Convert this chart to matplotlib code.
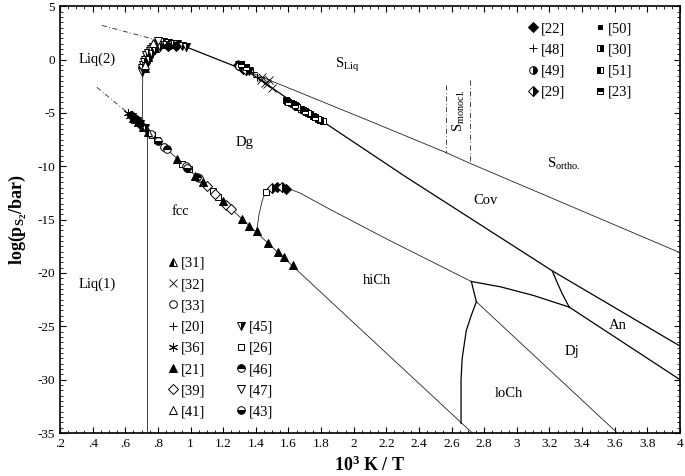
import matplotlib
matplotlib.use('Agg')
import matplotlib.pyplot as plt
from matplotlib.lines import Line2D
from matplotlib.ticker import FixedLocator, FixedFormatter, MultipleLocator

plt.rcParams['font.family'] = ['Liberation Serif', 'DejaVu Serif']
plt.rcParams['mathtext.fontset'] = 'custom'
plt.rcParams['mathtext.rm'] = 'Liberation Serif'
plt.rcParams['mathtext.it'] = 'Liberation Serif:italic'
plt.rcParams['mathtext.bf'] = 'Liberation Serif:bold'
plt.rcParams['axes.unicode_minus'] = False

# ---- phase boundaries (10^3 K/T , log pS2) ----
liq1_fcc_x = [0.732, 0.732]
liq1_fcc_y = [-35.0, -6.65]
liq2_dg_x = [0.71, 0.705, 0.705, 0.708, 0.732, 0.77, 0.80]
liq2_dg_y = [-6.35, -5.0, -3.0, -1.3, 0.9, 1.6, 1.8]
gas_top_x = [0.80, 0.977, 1.35]
gas_top_y = [1.8, 1.16, -1.1]
dash_top_x = [0.457, 0.80]
dash_top_y = [3.2, 1.8]
dash_low_x = [0.426, 0.616]
dash_low_y = [-2.6, -5.0]
s_gas_x = [1.35, 2.085, 2.574, 2.709, 4.0]
s_gas_y = [-1.1, -5.68, -8.77, -9.7, -18.1]
dg_cov_x = [1.35, 1.58, 1.81, 2.32, 3.217, 4.0]
dg_cov_y = [-1.1, -3.5, -5.8, -11.0, -19.8, -26.85]
fcc_dg_x = [0.616, 2.727]
fcc_dg_y = [-5.0, -35.0]
hich_dg_x = [1.405, 1.42, 1.44, 1.46, 1.53, 1.6, 1.67, 1.85, 2.2, 2.721]
hich_dg_y = [-16.1, -14.5, -13.2, -12.4, -12.0, -12.1, -12.5, -14.0, -16.8, -20.8]
dj_top_x = [2.721, 2.9, 3.1, 3.321]
dj_top_y = [-20.8, -21.3, -22.1, -23.2]
an_dj_x = [3.217, 3.25, 3.28, 3.321]
an_dj_y = [-19.8, -21.0, -22.0, -23.2]
an_low_x = [3.321, 4.0]
an_low_y = [-23.2, -30.0]
short_x = [2.721, 2.752]
short_y = [-20.8, -22.7]
dj_loch_x = [2.752, 3.616]
dj_loch_y = [-22.7, -35.0]
hich_loch_x = [2.752, 2.72, 2.69, 2.665, 2.658, 2.658]
hich_loch_y = [-22.7, -24.0, -25.4, -28.0, -30.0, -34.1]
smono_l_x = [2.568, 2.568]
smono_l_y = [-2.4, -8.77]
smono_r_x = [2.715, 2.715]
smono_r_y = [-1.9, -9.7]

# ---- experimental points ----
r31_x = [0.66, 0.74]
r31_y = [-5.6, -6.8]
r32_x = [1.43, 1.455, 1.47, 1.50, 1.44, 1.48]
r32_y = [-1.9, -2.2, -2.3, -2.7, -1.65, -1.9]
r33_x = [0.755, 0.84, 0.97, 1.05]
r33_y = [-6.95, -8.15, -10.0, -11.1]
r20_x = [0.63]
r20_y = [-5.2]
r36_x = [0.616, 0.63]
r36_y = [-5.0, -5.25]
r21_x = [0.65, 0.68, 0.71, 0.92, 1.03, 1.075, 1.20, 1.314, 1.357, 1.405, 1.473,
         1.534, 1.57, 1.626, 0.72, 0.74, 0.78, 0.84, 0.90, 0.705, 0.73]
r21_y = [-5.5, -5.9, -6.3, -9.35, -10.9, -11.5, -13.3, -14.9, -15.6, -16.1, -17.2,
         -18.0, -18.5, -19.3, -0.8, 0.2, 1.1, 1.5, 1.5, -0.3, 0.5]
r39_x = [1.10, 1.15, 1.22, 1.25]
r39_y = [-11.85, -12.6, -13.6, -14.0]
r41_x = [0.77, 0.72]
r41_y = [1.55, -0.5]
r45_x = [0.70, 0.71, 0.72, 0.73, 0.75, 0.77, 0.80, 0.83, 0.86, 0.89, 0.92, 0.95,
         0.975, 0.70, 0.715, 0.74, 0.76, 0.79, 0.82, 0.85, 0.88, 1.30, 1.33, 1.36,
         0.64, 0.67, 0.69, 0.72, 0.725, 0.745, 0.765, 0.785, 0.81]
r45_y = [-1.2, -0.5, 0.0, 0.4, 0.8, 1.2, 1.5, 1.6, 1.55, 1.5, 1.45, 1.3,
         1.2, -0.8, -0.2, 0.6, 1.0, 1.35, 1.4, 1.4, 1.35, -0.5, -0.8, -1.1,
         -5.35, -5.75, -6.05, -6.45, -0.6, 0.0, 0.5, 0.9, 1.2]
r26_x = [1.46, 0.765, 0.795, 0.95, 0.99, 1.136, 1.17]
r26_y = [-12.4, -7.1, -7.5, -9.8, -10.3, -12.3, -12.85]
r46_x = [0.855, 1.04]
r46_y = [-8.4, -11.0]
r47_x = [0.80]
r47_y = [1.7]
r43_x = [0.80, 0.98]
r43_y = [-7.6, -10.2]
r22_x = [1.53, 1.585, 0.64, 0.67, 0.69, 0.86, 0.91, 1.29, 1.32]
r22_y = [-11.95, -12.1, -5.3, -5.7, -6.0, 1.3, 1.3, -0.5, -0.9]
r48_x = [1.38, 1.41]
r48_y = [-1.2, -1.6]
r49_x = [1.30]
r49_y = [-0.6]
r29_x = [1.50, 1.56, 1.31, 1.34]
r29_y = [-12.0, -11.95, -0.6, -1.0]
r50_x = [1.60, 1.66, 1.72, 1.78]
r50_y = [-3.9, -4.4, -4.9, -5.5]
r30_x = [1.585, 1.615, 1.645, 1.675, 1.705, 1.735, 1.765, 1.795]
r30_y = [-3.8, -4.05, -4.35, -4.6, -4.9, -5.15, -5.4, -5.65]
r51_x = [1.59, 1.625, 1.655, 1.69, 1.72, 1.75, 1.78, 1.81]
r51_y = [-3.9, -4.2, -4.45, -4.75, -5.0, -5.3, -5.55, -5.8]
r23_x = [1.60, 1.64, 1.70, 1.76, 1.31, 1.34]
r23_y = [-4.0, -4.3, -4.85, -5.35, -0.4, -0.7]

x_ticks = [0.2, 0.4, 0.6, 0.8, 1.0, 1.2, 1.4, 1.6, 1.8, 2.0, 2.2, 2.4, 2.6, 2.8, 3.0,
           3.2, 3.4, 3.6, 3.8, 4.0]
x_tick_labels = ['.2', '.4', '.6', '.8', '1', '1.2', '1.4', '1.6', '1.8', '2', '2.2',
                 '2.4', '2.6', '2.8', '3', '3.2', '3.4', '3.6', '3.8', '4']
y_ticks = [5, 0, -5, -10, -15, -20, -25, -30, -35]

fig = plt.figure(figsize=(6.85, 4.76), dpi=100)
ax = fig.add_axes([0.0876, 0.0903, 0.9051, 0.8967])

thin = dict(color='#222222', lw=0.6)
thick = dict(color='black', lw=0.9)
dashdot = dict(color='#222222', lw=0.6, ls=(0, (6, 3, 1, 3)))
ax.plot(liq1_fcc_x, liq1_fcc_y, **thin)
ax.plot(liq2_dg_x, liq2_dg_y, **thin)
ax.plot(gas_top_x, gas_top_y, **thick)
ax.plot(dash_top_x, dash_top_y, **dashdot)
ax.plot(dash_low_x, dash_low_y, **dashdot)
ax.plot(s_gas_x, s_gas_y, **thin)
ax.plot(dg_cov_x, dg_cov_y, **thick)
ax.plot(fcc_dg_x, fcc_dg_y, **thin)
ax.plot(hich_dg_x, hich_dg_y, **thin)
ax.plot(dj_top_x, dj_top_y, **thick)
ax.plot(an_dj_x, an_dj_y, **thick)
ax.plot(an_low_x, an_low_y, **thick)
ax.plot(short_x, short_y, **thick)
ax.plot(dj_loch_x, dj_loch_y, **thin)
ax.plot(hich_loch_x, hich_loch_y, **thick)
ax.plot(smono_l_x, smono_l_y, **dashdot)
ax.plot(smono_r_x, smono_r_y, **dashdot)

ms = 5.5
def mk(marker, fill='full', face='black', size=ms, ew=0.7):
    return dict(marker=marker, fillstyle=fill, markerfacecolor=face,
                markerfacecoloralt='white', markeredgecolor='black',
                markersize=size, markeredgewidth=ew, linestyle='none')

styles = {
    '[31]': mk('^', 'left'),
    '[32]': mk('x', face='none', ew=0.6),
    '[33]': mk('o', face='white'),
    '[20]': mk('+', ew=0.7),
    '[36]': mk((6, 2, 0), ew=0.7, size=6.5),
    '[21]': mk('^'),
    '[39]': mk('D', face='white', size=5),
    '[41]': mk('^', face='white'),
    '[45]': mk('v', 'right'),
    '[26]': mk('s', face='white', size=5),
    '[46]': mk('o', 'top'),
    '[47]': mk('v', face='white'),
    '[43]': mk('o', 'bottom'),
    '[22]': mk('D', size=5),
    '[48]': mk('+', ew=0.7),
    '[49]': mk('o', 'right'),
    '[29]': mk('D', 'right', size=5),
    '[50]': mk('s', size=3.5),
    '[30]': mk('s', 'right', size=4.5),
    '[51]': mk('s', 'left', size=4.5),
    '[23]': mk('s', 'top', size=4.5),
}

points = [
    ('[26]', r26_x, r26_y), ('[33]', r33_x, r33_y), ('[39]', r39_x, r39_y),
    ('[46]', r46_x, r46_y), ('[43]', r43_x, r43_y), ('[31]', r31_x, r31_y),
    ('[20]', r20_x, r20_y), ('[36]', r36_x, r36_y), ('[21]', r21_x, r21_y),
    ('[45]', r45_x, r45_y), ('[41]', r41_x, r41_y), ('[47]', r47_x, r47_y),
    ('[22]', r22_x, r22_y), ('[29]', r29_x, r29_y), ('[49]', r49_x, r49_y),
    ('[32]', r32_x, r32_y), ('[48]', r48_x, r48_y), ('[50]', r50_x, r50_y),
    ('[30]', r30_x, r30_y), ('[51]', r51_x, r51_y), ('[23]', r23_x, r23_y),
]
for lab, xs, ys in points:
    ax.plot(xs, ys, **styles[lab])

def handles(labels):
    out = []
    for lab in labels:
        if lab is None:
            out.append(Line2D([], [], linestyle='none'))
        else:
            out.append(Line2D([], [], **styles[lab]))
    return out

leg_kw = dict(ncol=2, loc='upper left', frameon=False, fontsize=10.5,
              handlelength=0.8, handletextpad=0.15, columnspacing=2.0,
              labelspacing=0.55, borderpad=0, borderaxespad=0)
left_labels = ['[31]', '[32]', '[33]', '[20]', '[36]', '[21]', '[39]', '[41]',
               None, None, None, '[45]', '[26]', '[46]', '[47]', '[43]']
leg1 = ax.legend(handles(left_labels), [l or '' for l in left_labels],
                 bbox_to_anchor=(0.173, 0.413), **leg_kw)
ax.add_artist(leg1)
right_labels = ['[22]', '[48]', '[49]', '[29]', '[50]', '[30]', '[51]', '[23]']
ax.legend(handles(right_labels), right_labels,
          bbox_to_anchor=(0.753, 0.963), **leg_kw)

fs = 10.5
ax.text(0.43, 0.0, 'Liq(2)', fontsize=fs, ha='center', va='center')
ax.text(0.43, -21.1, 'Liq(1)', fontsize=fs, ha='center', va='center')
ax.text(1.33, -7.8, 'Dg', fontsize=fs, ha='center', va='center')
ax.text(0.935, -14.2, 'fcc', fontsize=fs, ha='center', va='center')
ax.text(2.14, -20.7, 'hiCh', fontsize=fs, ha='center', va='center')
ax.text(2.81, -13.2, 'Cov', fontsize=fs, ha='center', va='center')
ax.text(3.62, -24.9, 'An', fontsize=fs, ha='center', va='center')
ax.text(3.34, -27.4, 'Dj', fontsize=fs, ha='center', va='center')
ax.text(2.95, -31.3, 'loCh', fontsize=fs, ha='center', va='center')
ax.text(1.96, -0.5, r'S$_{\mathrm{Liq}}$', fontsize=fs, ha='center', va='center')
ax.text(3.29, -9.8, r'S$_{\mathrm{ortho.}}$', fontsize=fs, ha='center', va='center')
ax.text(2.645, -4.8, r'S$_{\mathrm{monocl.}}$', fontsize=fs, ha='center',
        va='center', rotation=90)

ax.set_xlim(0.2, 4.0)
ax.set_ylim(-35, 5)
ax.xaxis.set_major_locator(FixedLocator(x_ticks))
ax.xaxis.set_major_formatter(FixedFormatter(x_tick_labels))
ax.xaxis.set_minor_locator(MultipleLocator(0.05))
ax.yaxis.set_major_locator(FixedLocator(y_ticks))
ax.yaxis.set_minor_locator(MultipleLocator(0.5))
ax.tick_params(which='both', direction='in', top=True, right=True, labelsize=9.5)
ax.tick_params(which='major', length=4, width=0.8)
ax.tick_params(which='minor', length=2.2, width=0.6)
for s in ax.spines.values():
    s.set_linewidth(1.2)

ax.set_xlabel(r'10$^{\mathbf{3}}$ K / T', fontsize=13, fontweight='bold', labelpad=4)
ax.set_ylabel(r'$\mathbf{log(p_{S_2}/bar)}$', fontsize=13, labelpad=6)

fig.savefig('out.png', dpi=100)
